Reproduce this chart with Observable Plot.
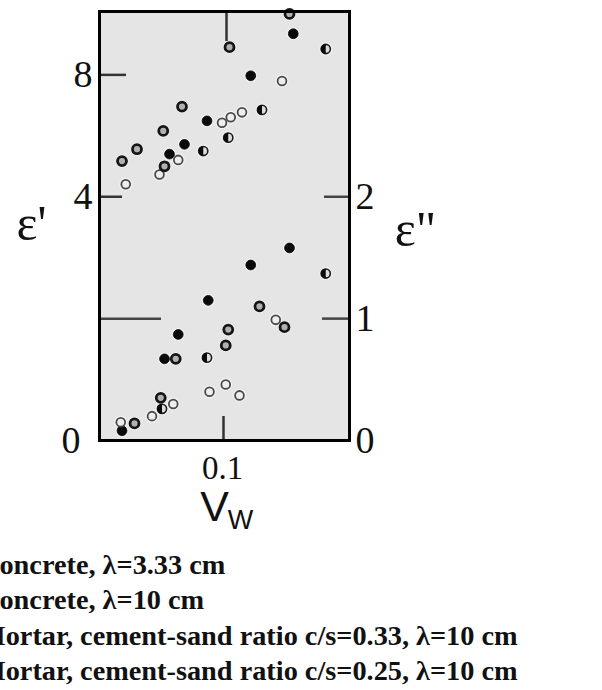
<!DOCTYPE html>
<html>
<head>
<meta charset="utf-8">
<script src="https://cdn.jsdelivr.net/npm/d3@7"></script>
<script src="https://cdn.jsdelivr.net/npm/@observablehq/plot@0.6"></script>
<style>
  html, body { margin: 0; padding: 0; background: #fff; }
  #wrap { position: relative; width: 602px; height: 690px; overflow: hidden; }
  #chart { position: absolute; left: 0; top: 0; }
  #legend { position: absolute; left: -21px; top: 547px; white-space: nowrap;
    font-family: "Liberation Serif", "Times New Roman", serif; font-weight: bold;
    font-size: 28.3px; line-height: 35.3px; color: #111; }
</style>
</head>
<body>
<div id="wrap">
  <div id="chart"></div>
  <div id="legend"></div>
</div>
<script>
// ---- data (water content Vw; ε' and ε'' values) ----
const seriesNames = [
  "Concrete, λ=3.33 cm",
  "Concrete, λ=10 cm",
  "Mortar, cement-sand ratio c/s=0.33, λ=10 cm",
  "Mortar, cement-sand ratio c/s=0.25, λ=10 cm"
];
// series A: filled dots
const vwA1 = [0.155, 0.121, 0.086, 0.068, 0.056];
const epsA1 = [9.35, 7.97, 6.49, 5.72, 5.40];
const vwA2 = [0.152, 0.121, 0.087, 0.063, 0.052, 0.018];
const epsA2 = [1.58, 1.44, 1.15, 0.87, 0.67, 0.08];
// series B: thin open circles
const vwB1 = [0.146, 0.114, 0.105, 0.098, 0.063, 0.048, 0.021];
const epsB1 = [7.80, 6.77, 6.61, 6.43, 5.21, 4.73, 4.41];
const vwB2 = [0.141, 0.101, 0.088, 0.112, 0.059, 0.042, 0.017];
const epsB2 = [0.99, 0.46, 0.40, 0.37, 0.30, 0.20, 0.15];
// series C: thick rings
const vwC1 = [0.152, 0.104, 0.066, 0.051, 0.030, 0.018, 0.052];
const epsC1 = [10.0, 8.91, 6.96, 6.16, 5.56, 5.17, 5.00];
const vwC2 = [0.128, 0.148, 0.103, 0.101, 0.061, 0.049, 0.028];
const epsC2 = [1.10, 0.93, 0.91, 0.78, 0.67, 0.35, 0.14];
// series D: half-filled
const vwD1 = [0.181, 0.130, 0.103, 0.083];
const epsD1 = [8.85, 6.85, 5.94, 5.50];
const vwD2 = [0.181, 0.086, 0.050];
const epsD2 = [1.37, 0.68, 0.26];

// tick labels
const xTicks = [0.1];
const leftTickPos = [2, 3];        // positions on the ε'' scale
const leftTickLabels = ["4", "8"];
const leftZeroPos = [0];
const leftZeroLabels = ["0"];
const rightTicks = [0, 1, 2];
const rightTickLabels = ["0", "1", "2"];

// ---- build rows ----
// ε' is read on the left axis: ε' = 4·(ε'' position − 1)
const rows = [];
function add(vw, eps, s, kind) {
  vw.forEach((v, i) => rows.push({vw: v, pos: kind === "e1" ? 1 + eps[i] / 4 : eps[i], s}));
}
add(vwA1, epsA1, 0, "e1"); add(vwA2, epsA2, 0, "e2");
add(vwB1, epsB1, 1, "e1"); add(vwB2, epsB2, 1, "e2");
add(vwC1, epsC1, 2, "e1"); add(vwC2, epsC2, 2, "e2");
add(vwD1, epsD1, 3, "e1"); add(vwD2, epsD2, 3, "e2");
const bySeries = k => rows.filter(d => d.s === k);

const halfLeft = {
  draw(ctx, size) {
    const r = Math.sqrt(size / Math.PI);
    ctx.moveTo(0, -r);
    ctx.arc(0, 0, r, -Math.PI / 2, Math.PI / 2, true);
    ctx.closePath();
  }
};

const frameW = 602 - 99 - 253;
const frameH = 540 - 11 - 100;
const leftLabelMap = new Map(leftTickPos.map((p, i) => [p, leftTickLabels[i]]));
const leftZeroMap = new Map(leftZeroPos.map((p, i) => [p, leftZeroLabels[i]]));
const rightLabelMap = new Map(rightTicks.map((p, i) => [p, rightTickLabels[i]]));
const serif = "'Liberation Serif', 'Times New Roman', serif";
const sans = "'Liberation Sans', Arial, sans-serif";

const chart = Plot.plot({
  width: 602,
  height: 540,
  marginLeft: 99,
  marginRight: 253,
  marginTop: 11,
  marginBottom: 100,
  x: {domain: [0, 0.2]},
  y: {domain: [0, 3.52]},
  style: {background: "transparent", fontFamily: serif, color: "#111", overflow: "visible"},
  marks: [
    Plot.frame({fill: "#e5e5e5"}),
    // inner tick marks
    Plot.tickY([3], {stroke: "#333", strokeWidth: 2.5, insetRight: frameW - 27}),
    Plot.tickY([2], {stroke: "#333", strokeWidth: 2.5, insetRight: frameW - 23}),
    Plot.tickY([1], {stroke: "#444", strokeWidth: 2.5, insetRight: frameW - 62}),
    Plot.tickY([2], {stroke: "#444", strokeWidth: 2.5, insetLeft: frameW - 25}),
    Plot.tickY([1], {stroke: "#444", strokeWidth: 2.5, insetLeft: frameW - 27}),
    Plot.tickX(xTicks, {stroke: "#333", strokeWidth: 2.5, insetBottom: frameH - 30, dx: 2}),
    Plot.tickX(xTicks, {stroke: "#333", strokeWidth: 2.5, insetTop: frameH - 24, dx: -1}),
    // halos
    Plot.dot(rows, {x: "vw", y: "pos", r: 6.5, fill: "#f3f3f3", stroke: "none"}),
    // series A: filled
    Plot.dot(bySeries(0), {x: "vw", y: "pos", r: 4.9, fill: "#0a0a0a", stroke: "#0a0a0a", strokeWidth: 0.8}),
    // series B: thin open
    Plot.dot(bySeries(1), {x: "vw", y: "pos", r: 4.4, fill: "#eeeeee", stroke: "#4a4a4a", strokeWidth: 1.8}),
    // series C: thick ring
    Plot.dot(bySeries(2), {x: "vw", y: "pos", r: 4.5, fill: "#b0b0b0", stroke: "#151515", strokeWidth: 2.8}),
    // series D: half filled
    Plot.dot(bySeries(3), {x: "vw", y: "pos", r: 4.6, fill: "#dcdcdc", stroke: "#1a1a1a", strokeWidth: 1.6}),
    Plot.dot(bySeries(3), {x: "vw", y: "pos", r: 4.9, symbol: halfLeft, fill: "#0a0a0a", stroke: "none"}),
    // frame
    Plot.frame({stroke: "#000", strokeWidth: 3}),
    // axes
    Plot.axisY(leftTickPos, {anchor: "left", tickSize: 0, tickPadding: 7, fontSize: 38,
      tickFormat: d => leftLabelMap.get(d), fontFamily: serif, label: null}),
    Plot.axisY(leftZeroPos, {anchor: "left", tickSize: 0, tickPadding: 19, fontSize: 38,
      tickFormat: d => leftZeroMap.get(d), fontFamily: serif, label: null}),
    Plot.axisY(rightTicks, {anchor: "right", tickSize: 0, tickPadding: 6, fontSize: 38,
      tickFormat: d => rightLabelMap.get(d), fontFamily: serif, label: null}),
    Plot.axisX(xTicks, {anchor: "bottom", tickSize: 0, tickPadding: 15, fontSize: 33, dx: -2,
      tickFormat: d => String(d), fontFamily: serif, label: null}),
    // axis titles
    Plot.text(["ε'"], {frameAnchor: "left", dx: -68, dy: -2, fontSize: 50, textAnchor: "middle", lineAnchor: "middle", fontFamily: serif}),
    Plot.text(["ε\""], {frameAnchor: "right", dx: 66, dy: 4, fontSize: 50, textAnchor: "middle", lineAnchor: "middle", fontFamily: serif}),
    Plot.text(["V"], {frameAnchor: "bottom", dx: -10, dy: 67, fontSize: 43, textAnchor: "middle", lineAnchor: "middle", fontFamily: sans}),
    Plot.text(["W"], {frameAnchor: "bottom", dx: 16, dy: 80, fontSize: 27, textAnchor: "middle", lineAnchor: "middle", fontFamily: sans})
  ]
});
document.getElementById("chart").appendChild(chart);

const legend = document.getElementById("legend");
seriesNames.forEach(name => {
  const div = document.createElement("div");
  div.textContent = name;
  legend.appendChild(div);
});
</script>
</body>
</html>
